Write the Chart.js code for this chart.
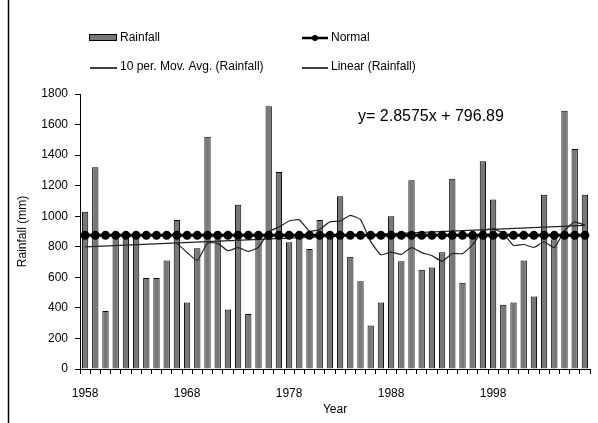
<!DOCTYPE html>
<html>
<head>
<meta charset="utf-8">
<script src="https://cdn.jsdelivr.net/npm/chart.js@4.4.1/dist/chart.umd.min.js"></script>
<style>
  html, body { margin: 0; padding: 0; background: #fff; }
  #wrap { position: relative; width: 598px; height: 423px; }
</style>
</head>
<body>
<div id="wrap"><canvas id="chart" width="598" height="423"></canvas></div>
<script>
// Categories (years)
const years = [
  '1958','1959','1960','1961','1962','1963','1964','1965','1966','1967',
  '1968','1969','1970','1971','1972','1973','1974','1975','1976','1977',
  '1978','1979','1980','1981','1982','1983','1984','1985','1986','1987',
  '1988','1989','1990','1991','1992','1993','1994','1995','1996','1997',
  '1998','1999','2000','2001','2002','2003','2004','2005','2006','2007'
];
// Only these years get a label under the axis
const tickYears = ['1958', '1968', '1978', '1988', '1998'];

// Annual rainfall (mm)
const rainfall = [
  1030, 1320, 380, 875, 870, 875, 595, 595, 710, 975,
  435, 790, 1520, 850, 390, 1075, 360, 860, 1720, 1290,
  830, 860, 785, 975, 870, 1130, 735, 575, 285, 435,
  1000, 705, 1235, 650, 665, 765, 1245, 565, 870, 1360,
  1110, 420, 435, 710, 475, 1140, 850, 1690, 1440, 1140
];

// 10 period moving average (starts at the 10th year)
const movAvg = [
  null, null, null, null, null, null, null, null, null, 823,
  763, 710, 824, 822, 774, 794, 770, 797, 898, 929,
  969, 976, 902, 915, 963, 968, 1006, 977, 834, 748,
  765, 750, 795, 762, 742, 705, 756, 755, 814, 906,
  917, 889, 809, 815, 796, 833, 794, 906, 963, 941
];

// Normal rainfall (mm)
const normalValue = 875;
const normal = years.map(() => normalValue);

// Linear trend end points (first and last year)
const trendStart = 800;
const trendEnd = 940;
const linear = years.map((y, i) => i === 0 ? trendStart : (i === years.length - 1 ? trendEnd : null));

const equationText = 'y= 2.8575x + 796.89';

const FONT = 'Liberation Sans, Arial, sans-serif';
const INK = '#000';

// legend in two columns, like the original
const legendPlugin = {
  id: 'gridLegend',
  afterDraw(chart) {
    const ctx = chart.ctx;
    const ds = chart.data.datasets;
    ctx.save();
    // frame line on the left
    ctx.strokeStyle = '#000';
    ctx.lineWidth = 1.5;
    ctx.beginPath();
    ctx.moveTo(8.5, 0);
    ctx.lineTo(8.5, 423);
    ctx.stroke();

    ctx.font = '12px ' + FONT;
    ctx.fillStyle = INK;
    ctx.textBaseline = 'middle';
    ctx.textAlign = 'left';

    // Rainfall
    ctx.fillStyle = ds[3].backgroundColor;
    ctx.fillRect(89, 34.5, 27, 6);
    ctx.strokeStyle = '#000';
    ctx.lineWidth = 1;
    ctx.strokeRect(89.5, 34.5, 27, 6);
    ctx.fillStyle = INK;
    ctx.fillText(ds[3].label, 120, 38);

    // Normal
    ctx.strokeStyle = '#000';
    ctx.lineWidth = 2.5;
    ctx.beginPath();
    ctx.moveTo(302, 38);
    ctx.lineTo(328, 38);
    ctx.stroke();
    ctx.beginPath();
    ctx.arc(315, 38, 3, 0, Math.PI * 2);
    ctx.fillStyle = '#000';
    ctx.fill();
    ctx.fillStyle = INK;
    ctx.fillText(ds[0].label, 331, 38);

    // Moving average and linear
    ctx.lineWidth = 1.5;
    ctx.beginPath();
    ctx.moveTo(90, 68);
    ctx.lineTo(117, 68);
    ctx.moveTo(302, 68);
    ctx.lineTo(328, 68);
    ctx.stroke();
    ctx.fillText(ds[1].label, 120, 67);
    ctx.fillText(ds[2].label, 331, 67);

    // trend equation
    ctx.font = '16px ' + FONT;
    ctx.fillText(equationText, 358, 117);
    ctx.restore();
  }
};

new Chart(document.getElementById('chart'), {
  type: 'bar',
  data: {
    labels: years,
    datasets: [
      {
        type: 'line',
        label: 'Normal',
        data: normal,
        borderColor: '#000',
        borderWidth: 3,
        pointRadius: 3,
        pointBackgroundColor: '#000',
        pointBorderColor: '#000',
        order: 1
      },
      {
        type: 'line',
        label: '10 per. Mov. Avg. (Rainfall)',
        data: movAvg,
        borderColor: '#222',
        borderWidth: 1.2,
        pointRadius: 0,
        tension: 0.15,
        order: 2
      },
      {
        type: 'line',
        label: 'Linear (Rainfall)',
        data: linear,
        borderColor: '#222',
        borderWidth: 1.2,
        pointRadius: 0,
        spanGaps: true,
        order: 3
      },
      {
        label: 'Rainfall',
        data: rainfall,
        backgroundColor: '#787878',
        borderColor: '#000',
        borderWidth: 1,
        categoryPercentage: 1,
        barPercentage: 0.62,
        order: 4
      }
    ]
  },
  options: {
    responsive: false,
    animation: false,
    layout: { padding: { left: 10, top: 94, right: 8, bottom: 0 } },
    plugins: {
      legend: { display: false },
      tooltip: { enabled: false }
    },
    scales: {
      x: {
        offset: true,
        grid: { offset: true, drawOnChartArea: false, drawTicks: true, tickLength: 5, color: '#000' },
        border: { display: true, color: '#000', width: 1 },
        ticks: {
          autoSkip: false,
          maxRotation: 0,
          minRotation: 0,
          padding: 12,
          color: INK,
          font: { family: FONT, size: 12 },
          callback: function (v, i) {
            return tickYears.includes(years[i]) ? years[i] : '';
          }
        },
        title: {
          display: true,
          text: 'Year',
          color: INK,
          font: { family: FONT, size: 12 },
          padding: { top: 0, bottom: 6 }
        },
        afterFit: s => { s.height = 54; }
      },
      y: {
        min: 0,
        max: 1800,
        grid: { drawOnChartArea: false, drawTicks: true, tickLength: 5, color: '#000' },
        border: { display: true, color: '#000', width: 1 },
        ticks: {
          stepSize: 200,
          padding: 7,
          color: INK,
          font: { family: FONT, size: 12 },
          callback: v => String(v)
        },
        title: {
          display: true,
          text: 'Rainfall (mm)',
          color: INK,
          font: { family: FONT, size: 12 },
          padding: { top: 5, bottom: 0 }
        },
        afterFit: s => { s.width = 70; }
      }
    }
  },
  plugins: [legendPlugin]
});
</script>
</body>
</html>
